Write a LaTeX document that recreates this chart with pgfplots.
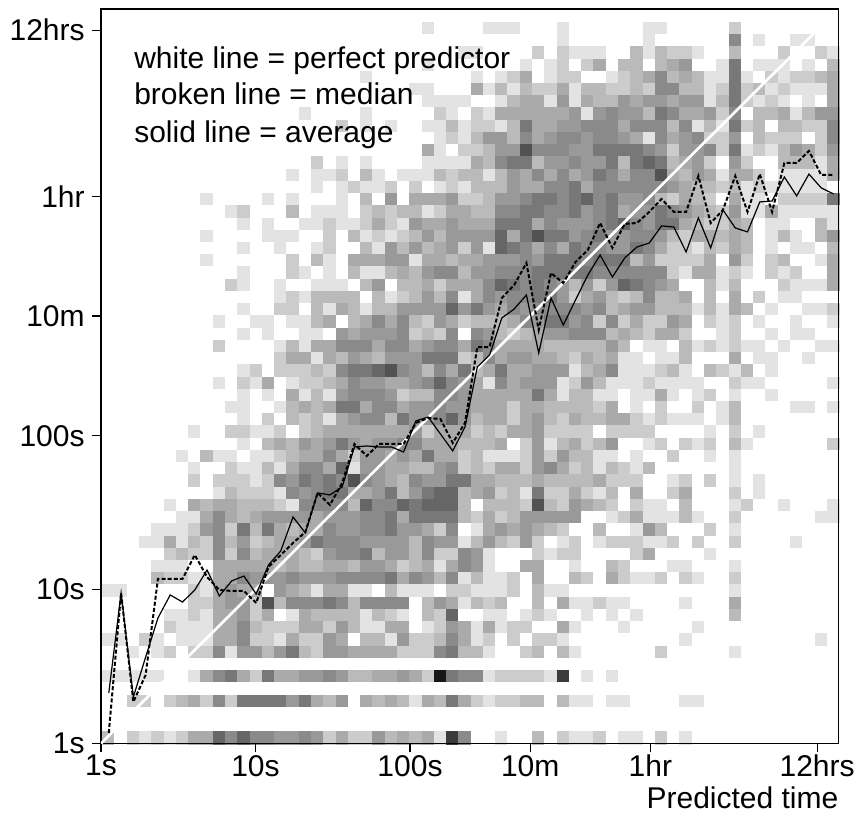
\documentclass[border=0pt]{standalone}
\usepackage{pgfplots}
\usepackage{pgfplotstable}
\usepackage{fontspec}
\setmainfont{Liberation Sans}
\pgfplotsset{compat=1.18}
% cell shade levels, one row per time bin (top row first), one column per predicted-time bin
\pgfplotstableread[header=false]{
0 0 0 0 0 0 0 0 0 0 0 0 0 0 0 0 0 0 0 0 0 0 0 0 0 0 0 0 0 0 0 0 0 0 0 0 0 0 0 0 0 0 0 0 0 0 0 0 0 0 0 0 0 0 0 0 0 0 0 0
0 0 0 0 0 0 0 0 0 0 0 0 0 0 0 0 0 0 0 0 0 0 0 0 0 0 1 0 0 0 0 1 1 1 0 0 0 1 0 0 0 0 0 0 1 1 0 0 0 0 0 2 0 0 0 0 0 0 0 0
0 0 0 0 0 0 0 0 0 0 0 0 0 0 0 0 0 0 0 0 0 0 0 0 0 0 0 0 0 0 0 0 0 0 0 0 0 1 0 0 0 0 0 0 1 0 0 0 0 0 0 6 0 1 0 0 1 1 0 0
0 0 0 0 0 0 0 0 0 0 0 0 0 0 0 0 0 0 0 0 0 0 0 0 0 0 0 0 0 1 1 0 0 0 0 2 0 2 1 1 1 0 0 3 1 3 2 2 1 0 0 3 0 0 0 2 0 0 2 1
0 0 0 0 0 0 0 0 0 0 0 0 0 0 0 0 0 0 0 0 0 0 0 0 0 0 1 0 0 0 0 0 0 0 1 0 1 2 0 2 4 0 3 3 0 3 4 5 0 0 1 7 0 1 1 1 0 1 0 3
0 0 0 0 0 0 0 0 0 0 0 0 0 0 0 0 0 0 0 0 0 1 0 0 0 0 0 0 0 0 1 0 1 2 4 0 1 2 2 0 0 1 2 3 4 6 3 4 3 1 1 7 1 0 2 1 2 2 3 4
0 0 0 0 0 0 0 0 0 0 0 0 0 0 0 0 0 0 0 0 0 0 0 0 0 1 1 0 0 0 4 1 3 1 3 2 2 4 1 3 3 2 2 3 2 6 6 3 3 1 2 7 2 3 1 2 1 1 1 4
0 0 0 0 0 0 0 0 0 0 0 0 0 0 0 0 0 0 0 0 0 0 0 0 0 0 1 1 1 1 0 0 1 3 4 4 1 5 1 4 3 3 5 4 5 5 4 5 5 1 3 7 2 1 2 1 0 1 0 4
0 0 0 0 0 0 0 0 0 0 0 0 0 0 0 0 1 0 0 0 0 1 0 0 0 0 0 2 1 0 2 1 4 4 4 4 4 4 5 1 5 6 5 5 3 7 6 4 4 5 2 6 0 3 3 4 1 3 5 5
0 0 0 0 0 0 0 0 0 0 0 0 0 0 0 0 0 0 0 2 0 1 0 1 0 0 1 1 3 1 2 2 1 3 7 4 4 5 5 6 6 6 4 6 6 6 3 6 1 3 1 7 2 3 0 3 3 2 2 6
0 0 0 0 0 0 0 0 0 0 0 0 0 0 0 0 0 0 0 0 0 0 0 0 0 0 0 1 2 1 3 5 5 3 6 4 5 6 6 5 6 6 5 4 1 6 4 5 6 2 2 5 0 3 2 2 2 0 2 6
0 0 0 0 0 0 0 0 0 0 0 0 0 0 0 0 0 0 0 0 0 0 0 0 0 0 4 1 0 2 2 3 5 5 9 6 6 6 5 5 7 7 7 7 6 5 2 5 5 6 2 7 1 2 1 3 5 4 2 5
0 0 0 0 0 0 0 0 0 0 0 0 0 0 0 0 0 2 0 1 0 1 0 0 0 0 1 1 1 1 4 3 6 7 7 3 5 5 6 5 5 7 3 7 8 7 3 4 5 2 0 5 2 0 0 3 3 3 1 4
0 0 0 0 0 0 0 0 0 0 0 0 0 0 0 1 0 1 1 2 0 3 1 0 1 1 1 3 2 3 3 1 3 5 4 6 4 6 4 5 7 6 4 6 6 9 4 3 5 4 1 4 4 2 0 1 1 1 1 4
0 0 0 0 0 0 0 0 0 0 0 0 0 0 0 0 0 1 0 1 2 1 1 2 0 2 0 1 2 1 3 3 3 5 4 4 6 6 7 4 6 6 6 6 6 6 5 4 3 3 2 3 1 2 1 1 1 1 1 0
0 0 0 0 0 0 0 0 1 0 0 0 0 1 0 1 0 0 0 1 0 3 0 5 0 4 4 4 5 2 2 3 5 5 6 7 7 6 7 8 6 7 5 5 6 3 2 4 3 2 0 4 1 1 0 2 2 2 2 7
0 0 0 0 0 0 0 0 0 0 1 2 0 0 0 3 0 1 1 1 0 2 3 2 3 3 1 2 4 4 3 3 6 6 7 7 6 6 7 5 6 7 4 5 5 7 6 5 4 3 2 5 1 1 4 1 1 1 1 1
0 0 0 0 0 0 0 0 0 0 0 1 0 1 0 0 1 1 2 1 1 2 4 2 1 5 4 4 5 4 4 4 7 7 7 4 6 5 5 5 6 7 8 6 5 7 7 4 3 2 2 4 3 0 1 1 0 0 3 1
0 0 0 0 0 0 0 0 1 0 0 0 0 1 1 1 0 0 2 0 3 1 2 1 2 3 5 3 5 5 5 5 8 4 7 9 7 7 5 6 7 5 5 6 6 5 3 2 4 4 3 4 3 0 1 3 1 0 3 5
0 0 0 0 0 0 0 0 0 0 0 1 0 0 1 0 0 1 2 0 0 3 1 5 3 5 3 4 5 2 5 1 8 7 6 4 6 4 7 6 6 5 5 7 6 4 2 2 1 3 2 4 3 0 1 0 1 1 0 3
0 0 0 0 0 0 0 0 1 0 0 0 0 0 0 2 0 3 1 0 4 4 4 5 5 1 4 4 3 4 4 5 5 5 6 5 7 7 7 6 7 7 7 3 5 2 2 2 2 4 0 5 2 0 2 3 0 0 1 4
0 0 0 0 0 0 0 0 0 0 0 1 0 0 0 2 1 0 1 0 3 1 1 3 4 3 5 6 6 3 5 5 6 6 6 7 7 7 7 7 6 6 6 6 6 6 2 1 4 4 1 2 1 0 2 1 2 0 0 4
0 0 0 0 0 0 0 0 0 0 2 1 0 0 1 0 0 1 1 1 0 3 5 0 3 3 4 2 4 4 4 6 8 7 6 7 6 5 3 5 2 5 8 7 6 5 4 0 0 3 1 3 0 0 0 2 1 1 1 4
0 0 0 0 0 0 0 0 0 0 0 0 0 0 1 2 1 3 3 3 3 0 3 1 2 3 5 3 6 1 4 6 5 6 6 7 7 5 2 4 5 3 2 3 6 3 3 4 0 3 0 4 0 2 0 1 1 0 0 0
0 0 0 0 0 0 0 0 0 0 0 1 0 0 2 2 0 3 1 4 3 1 3 3 5 5 5 5 8 5 7 5 4 6 5 6 6 6 6 5 6 3 4 5 5 3 3 3 1 3 1 4 3 0 1 0 0 1 1 2
0 0 0 0 0 0 0 0 0 1 0 0 1 1 0 1 1 3 4 0 3 4 6 4 6 3 2 5 4 2 3 3 3 4 6 5 7 7 5 6 2 6 2 4 2 2 5 4 0 2 1 2 0 1 0 0 1 0 0 1
0 0 0 0 0 0 0 0 0 0 0 1 0 1 0 0 1 1 0 5 4 5 5 5 6 2 3 2 6 0 6 5 3 2 3 4 5 5 6 6 6 3 4 3 2 4 4 2 0 0 1 2 0 0 1 0 1 1 0 0
0 0 0 0 0 0 0 0 0 2 0 0 0 0 1 3 1 4 4 6 6 6 4 6 6 4 5 6 6 4 7 6 4 4 4 4 3 3 3 3 3 5 3 0 1 1 0 3 1 2 1 2 1 1 0 1 0 0 1 1
0 0 0 0 0 0 0 0 0 0 0 0 0 0 2 4 4 1 4 3 5 4 3 5 5 5 7 7 7 2 3 6 4 5 5 4 4 3 2 4 3 4 1 1 0 1 1 3 0 0 0 4 0 1 1 0 0 1 0 0
0 0 0 0 0 0 0 0 0 0 0 1 2 0 2 2 2 3 2 6 7 7 8 9 6 5 3 6 4 7 3 4 7 4 4 5 5 5 1 3 4 6 1 1 1 2 3 1 0 3 2 1 3 0 1 0 0 0 0 0
0 0 0 0 0 0 0 0 0 1 0 2 1 4 0 1 2 2 3 4 6 5 5 4 4 5 6 8 6 5 4 1 6 4 5 5 5 1 2 5 3 1 1 1 2 1 1 1 1 0 0 2 1 1 0 0 0 0 0 1
0 0 0 0 0 0 0 0 0 0 0 1 0 1 0 4 1 3 1 5 6 6 6 5 2 3 3 6 6 5 4 4 4 4 4 7 4 1 3 3 1 1 0 1 1 4 1 0 1 2 0 1 0 0 1 0 0 0 0 0
0 0 0 0 0 0 0 0 0 0 1 1 0 0 1 3 4 3 4 7 7 4 6 6 4 5 5 6 5 5 4 4 4 2 4 4 3 3 3 3 2 4 0 1 0 2 0 0 2 0 1 3 0 0 0 0 1 1 0 1
0 0 0 0 0 0 0 0 0 0 0 1 0 2 0 3 2 3 1 4 5 6 6 3 7 5 5 6 8 5 3 4 4 2 4 5 3 2 4 3 3 4 4 2 1 2 1 1 1 0 1 3 0 0 0 0 0 0 0 0
0 0 0 0 0 0 0 1 0 0 2 2 1 1 2 0 2 3 4 4 4 4 4 4 4 5 2 4 4 4 2 3 2 4 4 5 2 2 2 2 0 2 2 2 2 0 0 0 0 1 0 2 0 1 0 0 0 0 0 0
0 0 0 0 0 0 0 0 0 0 0 1 0 3 4 3 5 4 5 7 5 4 5 5 6 6 4 4 4 3 3 3 4 0 2 5 1 3 4 2 3 5 0 0 1 2 0 2 1 2 0 3 1 0 0 0 0 0 0 2
0 0 0 0 0 0 1 0 3 1 1 0 1 1 2 3 4 4 6 4 2 5 5 4 5 4 7 4 4 2 3 1 1 1 2 5 2 5 3 3 1 1 0 1 0 0 2 0 0 1 0 1 0 0 0 0 0 0 0 0
0 0 0 0 0 0 0 1 0 0 2 1 1 3 1 4 6 6 4 8 1 5 5 4 4 3 3 5 6 2 3 2 4 4 2 5 6 4 2 3 1 3 2 1 3 0 0 0 0 0 0 1 0 0 0 0 0 0 0 0
0 0 0 0 0 0 0 2 0 2 2 2 1 2 6 5 7 6 7 6 9 6 5 4 3 6 5 5 7 7 4 4 3 3 3 4 3 3 3 3 4 2 2 2 0 0 1 2 0 2 0 1 0 1 0 0 0 0 0 0
0 0 0 0 0 0 0 0 0 1 3 2 2 2 1 6 5 6 7 7 4 4 5 7 3 5 7 8 8 3 4 5 2 3 1 7 2 2 4 2 1 3 0 4 0 0 2 4 0 0 0 2 0 1 0 0 0 0 0 0
0 0 0 0 0 1 0 4 3 4 4 3 3 3 2 1 6 6 6 6 3 8 6 6 8 7 8 8 8 3 0 3 3 3 2 9 3 2 5 4 3 2 0 2 1 1 0 3 0 0 0 1 2 0 0 1 0 0 0 1
0 0 0 0 0 0 1 1 4 6 4 3 4 5 5 5 5 4 5 5 5 6 6 7 4 7 7 7 7 3 2 4 2 3 5 5 5 5 5 0 0 1 2 4 1 1 1 3 1 0 0 2 0 0 0 0 0 0 1 1
0 0 0 0 1 1 1 2 5 6 2 7 3 7 4 3 4 4 6 5 5 6 6 7 5 5 4 2 6 0 1 4 5 4 5 4 3 2 0 0 3 0 0 1 5 3 0 0 0 2 0 1 0 0 0 0 0 0 0 0
0 0 0 1 1 4 1 3 2 6 3 5 2 3 4 4 5 7 6 6 6 5 5 5 5 3 6 5 5 1 3 5 3 2 5 2 0 1 2 0 1 2 2 2 1 1 2 0 2 0 0 2 0 0 0 0 1 0 0 0
0 0 0 0 0 2 3 2 2 6 2 6 3 4 4 4 3 2 5 6 6 7 3 5 5 3 6 2 2 6 5 1 0 0 0 2 1 2 2 0 0 0 0 2 4 0 0 0 0 1 0 0 0 0 0 0 0 0 0 0
0 0 0 0 1 1 1 0 0 4 4 4 4 4 3 4 3 3 4 4 3 5 5 4 2 3 4 1 4 6 5 1 0 0 4 4 0 0 1 0 0 3 2 0 0 0 1 1 0 0 0 1 0 0 0 0 0 0 0 0
0 0 0 0 3 2 2 1 1 4 4 6 5 5 5 6 5 5 5 6 6 6 6 7 4 6 5 3 6 1 3 1 1 2 0 4 0 0 3 2 0 4 2 1 1 2 0 2 1 0 0 2 0 0 0 0 0 0 0 0
1 1 0 0 0 0 0 2 1 4 5 4 4 0 5 4 3 1 4 4 1 1 0 3 1 1 1 0 2 2 1 1 1 2 0 3 1 1 0 0 0 0 0 0 0 0 0 0 0 0 0 1 0 0 0 0 0 0 0 0
0 0 0 0 0 0 0 2 2 4 5 5 2 9 3 6 6 6 7 6 3 6 6 6 6 0 3 5 4 1 3 2 3 0 0 3 0 4 1 1 2 1 1 0 0 0 0 1 0 0 0 4 0 0 0 0 0 0 0 0
0 0 0 0 0 1 1 2 1 4 4 5 2 4 0 1 4 3 3 3 3 1 3 2 1 0 3 2 8 0 0 1 1 0 1 2 1 0 0 1 0 1 0 1 0 0 0 0 0 0 0 3 0 0 0 0 0 0 0 0
0 0 0 0 0 2 1 1 1 4 4 6 3 2 2 2 4 4 2 5 3 1 1 4 4 0 1 2 5 4 1 4 1 2 2 0 0 4 1 0 0 0 1 0 0 0 0 0 1 0 0 0 0 0 0 0 0 0 0 0
1 1 0 2 1 0 1 1 1 4 4 6 2 2 1 4 2 2 5 4 0 3 3 1 5 2 2 3 6 4 1 2 0 2 0 2 2 1 0 0 0 0 0 0 0 0 0 1 0 0 0 0 0 0 0 0 0 0 1 0
0 0 1 0 1 2 0 2 2 6 1 5 5 3 5 7 3 2 5 5 4 4 4 4 2 2 2 6 7 3 3 1 0 0 2 3 0 3 1 0 0 0 0 0 0 2 0 0 0 0 0 1 0 0 0 0 0 0 0 0
0 0 0 0 0 0 0 0 0 0 0 0 0 0 0 0 0 0 0 0 0 0 0 0 0 0 0 0 0 0 0 0 0 0 0 0 0 0 0 0 0 0 0 0 0 0 0 0 0 0 0 0 0 0 0 0 0 0 0 0
1 1 1 1 1 0 0 1 4 6 7 4 2 7 4 4 5 5 6 5 3 3 4 4 5 4 2 11 7 6 6 1 2 2 2 2 1 10 0 1 0 1 0 0 0 0 0 0 0 0 0 0 0 0 0 0 0 0 0 0
0 0 0 0 0 0 0 0 0 0 0 0 0 0 0 0 0 0 0 0 0 0 0 0 0 0 0 0 0 0 0 0 0 0 0 0 0 0 0 0 0 0 0 0 0 0 0 0 0 0 0 0 0 0 0 0 0 0 0 0
0 0 2 2 0 2 3 4 2 6 2 7 7 7 7 5 7 4 3 5 0 4 3 4 3 1 4 3 7 4 2 1 2 2 3 3 0 3 1 1 0 1 1 0 0 0 0 1 1 0 0 0 0 0 0 0 0 0 0 0
0 0 0 0 0 0 0 0 0 0 0 0 0 0 0 0 0 0 0 0 0 0 0 0 0 0 0 0 0 0 0 0 0 0 0 0 0 0 0 0 0 0 0 0 0 0 0 0 0 0 0 0 0 0 0 0 0 0 0 0
0 0 0 0 0 0 0 0 0 0 0 0 0 0 0 0 0 0 0 0 0 0 0 0 0 0 0 0 0 0 0 0 0 0 0 0 0 0 0 0 0 0 0 0 0 0 0 0 0 0 0 0 0 0 0 0 0 0 0 0
3 0 2 1 2 1 2 4 4 8 6 8 6 6 5 5 6 5 2 4 2 2 5 3 4 3 4 1 10 6 0 0 1 0 0 3 0 2 1 1 2 0 1 1 0 2 0 1 0 0 0 0 0 0 0 0 0 0 0 0
}\heat
% log10 of actual time per bin: average, median
\pgfplotstableread{
avg med
0.328 0.068
0.978 0.978
0.302 0.270
0.562 0.445
0.815 1.069
0.965 1.069
0.919 1.069
0.997 1.225
1.127 1.082
0.958 0.997
1.056 0.991
1.088 0.991
0.971 0.913
1.160 1.147
1.251 1.225
1.472 1.303
1.368 1.374
1.628 1.628
1.615 1.550
1.667 1.693
1.927 1.946
1.933 1.868
1.927 1.946
1.927 1.946
1.894 1.946
2.096 2.083
2.121 2.115
2.011 2.108
1.901 1.953
2.057 2.083
2.446 2.576
2.524 2.576
2.765 2.895
2.823 2.979
2.914 3.122
2.537 2.687
2.895 3.057
2.719 2.992
2.882 3.129
3.044 3.207
3.174 3.382
3.031 3.220
3.155 3.376
3.226 3.382
3.252 3.454
3.363 3.538
3.356 3.454
3.194 3.454
3.415 3.687
3.220 3.382
3.467 3.467
3.350 3.687
3.324 3.454
3.519 3.700
3.525 3.454
3.681 3.772
3.558 3.772
3.700 3.850
3.610 3.694
3.571 3.694
}\timelines
\begin{document}
\begin{tikzpicture}
\path[use as bounding box] (-75.75pt,-53.6pt) rectangle (567.75pt,557.6pt);
\begin{axis}[
  hide axis,
  scale only axis, width=553.2pt, height=550.9pt,
  xmin=0, xmax=4.774, ymin=0, ymax=4.773,
  colormap={heat}{gray(0cm)=(1); gray(1cm)=(0.89); gray(2cm)=(0.80); gray(3cm)=(0.73); gray(4cm)=(0.665); gray(5cm)=(0.60); gray(6cm)=(0.54); gray(7cm)=(0.47); gray(8cm)=(0.40); gray(9cm)=(0.32); gray(10cm)=(0.23); gray(11cm)=(0.09)},
  colormap name=heat,
  point meta min=0, point meta max=11,
]
\pgfplotsinvokeforeach{0,...,59}{
  \addplot[scatter, only marks, mark=square*, mark size=4.62pt,
    mark options={line width=0pt}, point meta=explicit,
    scatter/use mapped color={draw=mapped color,fill=mapped color}]
    table[x expr=0.0505+0.0795*#1, y expr=4.725-0.07947*\coordindex, meta index=#1]{\heat};
}
\end{axis}
\begin{axis}[
  scale only axis, width=553.2pt, height=550.9pt,
  xmin=0, xmax=4.774, ymin=0, ymax=4.773,
  axis line style={line width=1pt,black},
  tick style={line width=0.9pt,black},
  tick align=outside, major tick length=6.75pt,
  xtick pos=bottom, ytick pos=left,
  xtick={0,1,2,2.778,3.556,4.635},
  xticklabels={1s,10s,100s,10m,1hr,12hrs},
  ytick={0,1,2,2.778,3.556,4.635},
  yticklabels={1s,10s,100s,10m,1hr,12hrs},
  tick label style={font=\fontsize{22.5}{27}\selectfont},
  xticklabel style={yshift=1.5pt},
  yticklabel style={xshift=-2pt},
  xlabel={Predicted time},
  xlabel style={font=\fontsize{22.5}{27}\selectfont,inner sep=0pt,at={(rel axis cs:1,0)},anchor=base east,yshift=-48.8pt},
]
\addplot[white, line width=2pt, no marks] coordinates {(0,0) (4.635,4.635)};
\addplot[black, line width=1.5pt, no marks, dash pattern=on 3pt off 1.6pt]
  table[x expr=0.0505+0.0795*\coordindex, y=med]{\timelines};
\addplot[black, line width=0.9pt, no marks]
  table[x expr=0.0505+0.0795*\coordindex, y=avg]{\timelines};
\node[anchor=base west,inner sep=0pt,font=\fontsize{22.5}{27}\selectfont] at (axis cs:0.2136,4.389) {white line = perfect predictor};
\node[anchor=base west,inner sep=0pt,font=\fontsize{22.5}{27}\selectfont] at (axis cs:0.2136,4.149) {broken line = median};
\node[anchor=base west,inner sep=0pt,font=\fontsize{22.5}{27}\selectfont] at (axis cs:0.2136,3.904) {solid line = average};
\end{axis}
\end{tikzpicture}
\end{document}
